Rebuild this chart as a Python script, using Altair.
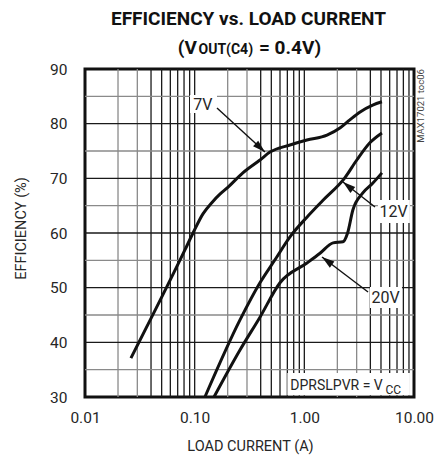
import altair as alt
import pandas as pd

# ---------------- data ----------------
x_7v = [0.0262, 0.0815, 0.0966, 0.119, 0.144, 0.170, 0.197, 0.275, 0.394, 0.486, 0.74, 1.056, 1.61, 2.11, 2.6, 3.2, 4.2, 5.1]
y_7v = [37.1, 56.9, 60.0, 63.5, 65.6, 67.1, 68.2, 71.0, 73.35, 74.8, 76.1, 77.0, 77.9, 79.2, 80.7, 82.1, 83.4, 84.0]
x_12v = [0.124, 0.259, 0.394, 0.54, 0.74, 1.056, 1.48, 2.34, 3.02, 3.96, 5.1]
y_12v = [30.0, 44.1, 50.9, 55.1, 59.3, 62.9, 66.0, 70.1, 73.4, 76.5, 78.3]
x_20v = [0.15, 0.259, 0.394, 0.6, 1.056, 1.39, 1.83, 2.25, 2.48, 2.77, 3.4, 4.2, 5.1]
y_20v = [30.0, 38.6, 44.6, 50.9, 54.5, 56.3, 58.2, 58.4, 60.0, 64.2, 67.3, 69.1, 71.0]

x_ticks = [0.01, 0.1, 1, 10]
y_ticks = [30, 40, 50, 60, 70, 80, 90]
decades = [0.01, 0.1, 1]
multipliers = [2, 3, 4, 5, 6, 7, 8, 9, 10]
h_grid = [35, 40, 45, 50, 55, 60, 65, 70, 75, 80, 85]

label_names = ["7V", "12V", "20V"]
label_x = [0.119, 6.5, 5.5]
label_y = [83.4, 63.9, 48.2]
box_x1 = [0.0907, 4.69, 3.97]
box_x2 = [0.1598, 9.17, 7.77]
box_y1 = [81.95, 61.83, 46.28]
box_y2 = [85.24, 66.03, 50.12]
arrow_x_start = [0.1598, 4.41, 3.81]
arrow_y_start = [82.86, 64.75, 49.21]
arrow_x_tip = [0.4375, 2.252, 1.449]
arrow_y_tip = [74.82, 69.33, 55.61]
arrow_angle = [42.5, 219, 217]

FONT = "Roboto, Liberation Sans, sans-serif"
TXT = "#262626"

# ---------------- tables ----------------
curves = pd.concat([
    pd.DataFrame({"x": x_7v, "y": y_7v, "s": "7V"}),
    pd.DataFrame({"x": x_12v, "y": y_12v, "s": "12V"}),
    pd.DataFrame({"x": x_20v, "y": y_20v, "s": "20V"}),
])
vg = pd.DataFrame({
    "v": [d * m for d in decades for m in multipliers][:-1],
    "c": ["#8a8a8a" if m in (2, 3) else "#1a1a1a" for d in decades for m in multipliers][:-1],
})
hg = pd.DataFrame({"v": h_grid, "c": ["#1a1a1a" if v % 10 == 0 else "#8a8a8a" for v in h_grid]})
labels = pd.DataFrame({"t": label_names, "x": label_x, "y": label_y,
                       "x1": box_x1, "x2": box_x2, "y1": box_y1, "y2": box_y2})
arrows = pd.DataFrame({"x": arrow_x_start, "y": arrow_y_start, "x2": arrow_x_tip,
                       "y2": arrow_y_tip, "a": arrow_angle})

xs = alt.Scale(type="log", domain=[0.01, 10], nice=False)
ys = alt.Scale(domain=[30, 90], nice=False)

xaxis = alt.Axis(
    values=x_ticks, format=".2f", grid=False, ticks=False, domain=False,
    labelFont=FONT, labelFontSize=15.5, labelColor=TXT, labelPadding=13, labelFlush=False,
    labelOverlap=False, title="LOAD CURRENT (A)", titleFont=FONT, titleFontSize=14.5,
    titleFontWeight="normal", titleColor=TXT, titleX=165, titleY=49, titleBaseline="middle")
yaxis = alt.Axis(
    values=y_ticks, format="d", grid=False, ticks=False, domain=False,
    labelFont=FONT, labelFontSize=15.5, labelColor=TXT, labelPadding=18,
    title="EFFICIENCY (%)", titleFont=FONT, titleFontSize=14.5, titleFontWeight="normal",
    titleColor=TXT, titleX=-64, titleY=159, titleBaseline="middle")


def X(f):
    return alt.X(f, scale=xs, axis=xaxis)


def Y(f):
    return alt.Y(f, scale=ys, axis=yaxis)


vrules = alt.Chart(vg).mark_rule(strokeWidth=1.3).encode(
    x=X("v:Q"), color=alt.Color("c:N", scale=None))
hrules = alt.Chart(hg).mark_rule(strokeWidth=1.3).encode(
    y=Y("v:Q"), color=alt.Color("c:N", scale=None))

boxes = alt.Chart(labels).mark_rect(color="white").encode(
    x=X("x1:Q"), x2="x2:Q", y=Y("y1:Q"), y2="y2:Q")

lines = alt.Chart(curves).mark_line(color="#111111", strokeWidth=3, interpolate="monotone").encode(
    x=X("x:Q"), y=Y("y:Q"), detail="s:N", order="x:Q")

shafts = alt.Chart(arrows).mark_rule(color="#111111", strokeWidth=1.4).encode(
    x=X("x:Q"), y=Y("y:Q"), x2="x2:Q", y2="y2:Q")
heads = alt.Chart(arrows).mark_point(
    shape="M0,0 L-2,-0.6 L-2,0.6 Z", filled=True, fill="#111111", opacity=1, strokeWidth=0, size=160
).encode(x=X("x2:Q"), y=Y("y2:Q"), angle=alt.Angle("a:Q", scale=None))

label_text = alt.Chart(labels).mark_text(font=FONT, fontSize=16, color=TXT, baseline="middle").encode(
    x=X("x:Q"), y=Y("y:Q"), text="t:N")

# DPRSLPVR = Vcc note
note = pd.DataFrame({"x1": [0.70], "x2": [9.18], "y1": [30.3], "y2": [34.4]})
note_box = alt.Chart(note).mark_rect(color="white").encode(
    x=X("x1:Q"), x2="x2:Q", y=Y("y1:Q"), y2="y2:Q")
note_main = alt.Chart(pd.DataFrame({"x": [0.745], "y": [31.3], "t": ["DPRSLPVR = V"]})).mark_text(
    font=FONT, fontSize=14, color=TXT, align="left", baseline="alphabetic").encode(
    x=X("x:Q"), y=Y("y:Q"), text="t:N")
note_sub = alt.Chart(pd.DataFrame({"x": [5.5], "y": [30.64], "t": ["CC"]})).mark_text(
    font=FONT, fontSize=12, color=TXT, align="left", baseline="alphabetic").encode(
    x=X("x:Q"), y=Y("y:Q"), text="t:N")


# titles (pixel positions outside the plot area)
def ptext(t, x, y, size, align, weight="bold", angle=0, color="#111111"):
    return alt.Chart(pd.DataFrame({"t": [t]})).mark_text(
        font=FONT, fontSize=size, fontWeight=weight, align=align, baseline="alphabetic",
        color=color, angle=angle).encode(x=alt.value(x), y=alt.value(y), text="t:N")


t1 = ptext("EFFICIENCY vs. LOAD CURRENT", 163.5, -44, 19, "center")
t2a = ptext("(V", 112, -15, 19, "right")
t2b = ptext("OUT(C4)", 113.5, -15, 14, "left")
t2c = ptext("= 0.4V)", 174, -15, 19, "left")
maxt = alt.Chart(pd.DataFrame({"t": ["MAX17021 toc06"]})).mark_text(
    font=FONT, fontSize=9.5, color="#444444", angle=270, align="center", baseline="middle"
).encode(x=alt.value(336), y=alt.value(37), text="t:N")

chart = alt.layer(
    vrules, hrules, boxes, lines, shafts, heads, label_text,
    note_box, note_main, note_sub, t1, t2a, t2b, t2c, maxt
).properties(
    width=329, height=328,
    autosize=alt.AutoSizeParams(type="none"),
    padding={"left": 77, "top": 61, "right": 22, "bottom": 58},
).configure_view(stroke="#111111", strokeWidth=3)

chart.save("out.html", embed_options={"renderer": "svg", "actions": False})
